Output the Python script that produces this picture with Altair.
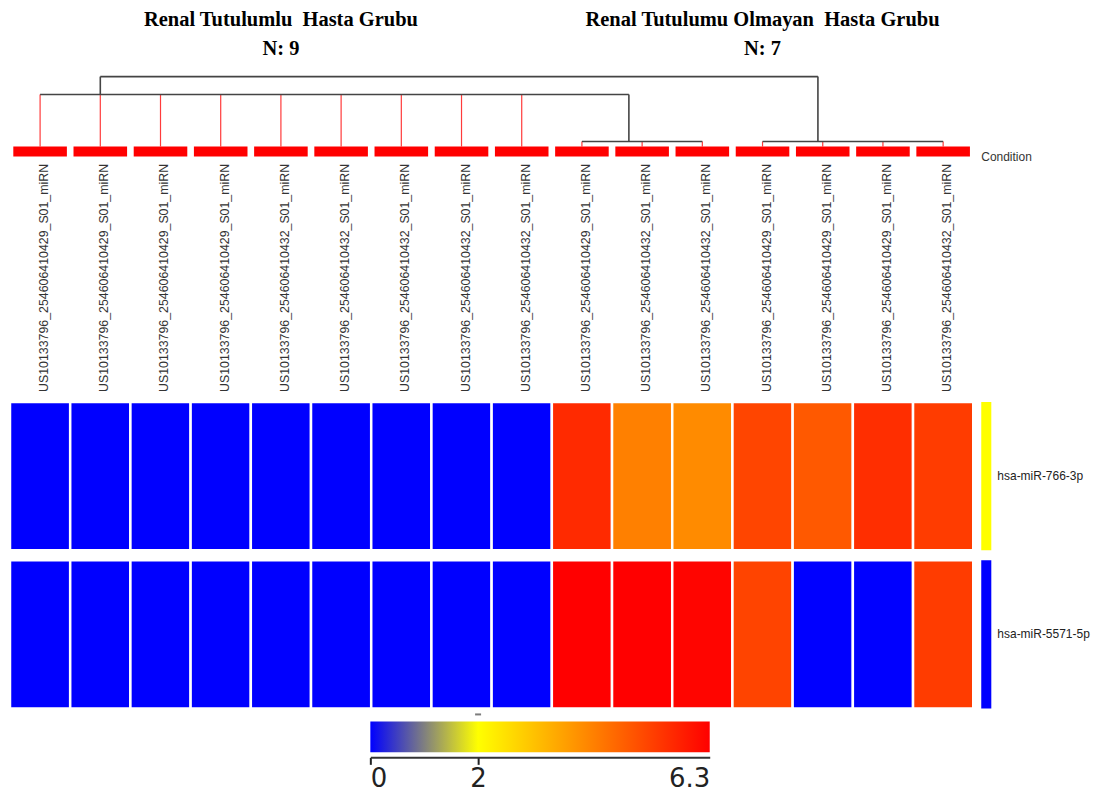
import altair as alt
import pandas as pd

# ---------------- data ----------------
COLUMN_LABELS = [
    "US10133796_254606410429_S01_miRN",
    "US10133796_254606410429_S01_miRN",
    "US10133796_254606410429_S01_miRN",
    "US10133796_254606410429_S01_miRN",
    "US10133796_254606410432_S01_miRN",
    "US10133796_254606410432_S01_miRN",
    "US10133796_254606410432_S01_miRN",
    "US10133796_254606410432_S01_miRN",
    "US10133796_254606410432_S01_miRN",
    "US10133796_254606410429_S01_miRN",
    "US10133796_254606410432_S01_miRN",
    "US10133796_254606410432_S01_miRN",
    "US10133796_254606410429_S01_miRN",
    "US10133796_254606410429_S01_miRN",
    "US10133796_254606410429_S01_miRN",
    "US10133796_254606410432_S01_miRN",
]
COLUMN_GROUP = [0, 0, 0, 0, 0, 0, 0, 0, 0, 1, 1, 1, 1, 1, 1, 1]
GROUP_NAMES = ["Renal Tutulumlu  Hasta Grubu", "Renal Tutulumu Olmayan  Hasta Grubu"]
GROUP_N = ["N: 9", "N: 7"]

MIRNAS = ["hsa-miR-766-3p", "hsa-miR-5571-5p"]
MIRNA_ANNOT_COLORS = ["#ffff00", "#0000ff"]
EXPR_766_3P = [0.0, 0.0, 0.0, 0.0, 0.0, 0.0, 0.0, 0.0, 0.0,
               5.59, 4.15, 3.95, 5.13, 4.80, 5.53, 5.29]
EXPR_5571_5P = [0.0, 0.0, 0.0, 0.0, 0.0, 0.0, 0.0, 0.0, 0.0,
                6.3, 6.3, 6.22, 5.15, 0.0, 0.0, 5.29]

CONDITION = ["Condition"]
CONDITION_COLOR = "#ff0000"

# dendrogram (column-index units, merge heights)
LEAF_MERGE_HEIGHT = [0.684, 0.684, 0.684, 0.684, 0.684, 0.684, 0.684, 0.684, 0.684,
                     0.066, 0.066, 0.066, 0.066, 0.066, 0.066, 0.066]
LINK_X = [0.0, 1.0, 1.0, 12.92, 9.78, 9.0, 12.0]
LINK_X2 = [9.78, 12.92, 1.0, 12.92, 9.78, 11.0, 15.0]
LINK_H = [0.684, 0.921, 0.684, 0.066, 0.066, 0.066, 0.066]
LINK_H2 = [0.684, 0.921, 0.921, 0.921, 0.684, 0.066, 0.066]

# colour bar
CB_STOPS = [0, 2, 6.3]
CB_COLORS = ["#0000ff", "#ffff00", "#ff0000"]
CB_LABELS = ["0", "2", "6.3"]

# ---------------- layout ----------------
W = 1101
ANNOT_X0, ANNOT_X1, ROWLABEL_X = 15.633, 15.80, 15.90
XS = alt.Scale(domain=[-0.5, 15.5], range=[0, 965], nice=False, zero=False)

n_cols = len(COLUMN_LABELS)
cols = list(range(n_cols))

# titles (keep the double spaces visible)
centers = []
for g in range(len(GROUP_NAMES)):
    idx = [i for i in cols if COLUMN_GROUP[i] == g]
    centers.append(sum(idx) / len(idx))
groups_df = pd.DataFrame({
    "name": [s.replace("  ", " \u00a0") for s in GROUP_NAMES],
    "n": GROUP_N, "center": centers,
})
tbase = alt.Chart(groups_df).encode(x=alt.X("center:Q", scale=XS, axis=None))
tstyle = dict(font="Liberation Serif", fontWeight="bold", fontSize=20.5,
              baseline="alphabetic", align="center", color="#000000")
title_panel = alt.layer(
    tbase.mark_text(**tstyle).encode(y=alt.value(17), text="name:N"),
    tbase.mark_text(**tstyle).encode(y=alt.value(46), text="n:N"),
).properties(width=W, height=62)

# dendrogram
YD = alt.Scale(domain=[0, 1], nice=False, zero=False)
leaves_df = pd.DataFrame({"col": cols, "base": [0.0] * n_cols, "h": LEAF_MERGE_HEIGHT})
links_df = pd.DataFrame({"x": LINK_X, "x2": LINK_X2, "y": LINK_H, "y2": LINK_H2})
leaf_rules = alt.Chart(leaves_df).mark_rule(color="#ff3b3b", strokeWidth=1.2).encode(
    x=alt.X("col:Q", scale=XS, axis=None),
    y=alt.Y("base:Q", scale=YD, axis=None),
    y2="h:Q",
)
link_rules = alt.Chart(links_df).mark_rule(color="#444444", strokeWidth=1.6).encode(
    x=alt.X("x:Q", scale=XS, axis=None),
    x2="x2:Q",
    y=alt.Y("y:Q", scale=YD, axis=None),
    y2="y2:Q",
)
dend_panel = alt.layer(leaf_rules, link_rules).properties(width=W, height=76)

# condition bar
cond_df = pd.DataFrame({"col": cols})
cond_bars = alt.Chart(cond_df).transform_calculate(
    x0="datum.col - 0.445", x1="datum.col + 0.445"
).mark_rect(color=CONDITION_COLOR).encode(
    x=alt.X("x0:Q", scale=XS, axis=None), x2="x1:Q"
)
cond_text = alt.Chart(pd.DataFrame({"t": CONDITION, "x": [ANNOT_X0]})).mark_text(
    align="left", baseline="middle", font="Liberation Sans", fontSize=12, color="#333333"
).encode(x=alt.X("x:Q", scale=XS, axis=None), y=alt.value(10.5), text="t:N")
cond_panel = alt.layer(cond_bars, cond_text).properties(width=W, height=10)

# column labels
lab_df = pd.DataFrame({"col": cols, "label": COLUMN_LABELS})
label_panel = alt.Chart(lab_df).mark_text(
    angle=270, align="left", baseline="middle", xOffset=4,
    font="Liberation Sans", fontSize=12.4, color="#333333"
).encode(
    x=alt.X("col:Q", scale=XS, axis=None), y=alt.value(236), text="label:N"
).properties(width=W, height=246)

# heatmap
rows = []
for m, vals in zip(MIRNAS, [EXPR_766_3P, EXPR_5571_5P]):
    for c, v in zip(cols, vals):
        rows.append({"mirna": m, "col": c, "value": v})
heat_df = pd.DataFrame(rows)
YS = alt.Scale(domain=MIRNAS, paddingInner=0.063, paddingOuter=0)
color_scale = alt.Scale(domain=CB_STOPS, range=CB_COLORS, interpolate="rgb", clamp=True)
cells = alt.Chart(heat_df).transform_calculate(
    x0="datum.col - 0.5", x1="datum.col + 0.5"
).mark_rect(stroke="white", strokeWidth=2.5).encode(
    x=alt.X("x0:Q", scale=XS, axis=None),
    x2="x1:Q",
    y=alt.Y("mirna:N", scale=YS, axis=None),
    color=alt.Color("value:Q", scale=color_scale, legend=None),
)
annot_df = pd.DataFrame({"mirna": MIRNAS, "c": MIRNA_ANNOT_COLORS,
                         "x0": [ANNOT_X0] * 2, "x1": [ANNOT_X1] * 2,
                         "lx": [ROWLABEL_X] * 2})
annot = alt.Chart(annot_df).mark_rect().encode(
    x=alt.X("x0:Q", scale=XS, axis=None), x2="x1:Q",
    y=alt.Y("mirna:N", scale=YS, axis=None),
    fill=alt.Fill("c:N", scale=None),
)
row_labels = alt.Chart(annot_df).mark_text(
    align="left", baseline="middle", font="Liberation Sans", fontSize=12, color="#222222"
).encode(
    x=alt.X("lx:Q", scale=XS, axis=None),
    y=alt.Y("mirna:N", scale=YS, axis=None),
    text="mirna:N",
)
heat_panel = alt.layer(cells, annot, row_labels).properties(width=W, height=307)

# colour bar
CBS = alt.Scale(domain=[CB_STOPS[0], CB_STOPS[-1]], range=[361, 701], nice=False, zero=False)
grad = alt.LinearGradient(
    gradient="linear", x1=0, x2=1, y1=0, y2=0,
    stops=[alt.GradientStop(offset=(v - CB_STOPS[0]) / (CB_STOPS[-1] - CB_STOPS[0]), color=c)
           for v, c in zip(CB_STOPS, CB_COLORS)],
)
cb_df = pd.DataFrame({"v0": [CB_STOPS[0]], "v1": [CB_STOPS[-1]]})
label_expr = "{" + ", ".join(f"'{v}': '{l}'" for v, l in zip(CB_STOPS, CB_LABELS)) + "}"
cb_axis = alt.Axis(
    values=CB_STOPS, orient="bottom", offset=5, grid=False,
    domain=True, domainColor="#333333", domainWidth=2,
    ticks=True, tickColor="#222222", tickWidth=2, tickSize=7,
    tickOpacity={"expr": f"datum.value == {CB_STOPS[-1]} ? 0 : 1"},
    labelFont="DejaVu Sans", labelFontSize=26, labelColor="#222222",
    labelPadding=1, labelFlush=False,
    labelAlign={"expr": f"datum.value == {CB_STOPS[0]} ? 'left' : (datum.value == {CB_STOPS[-1]} ? 'right' : 'center')"},
    labelExpr=f"{label_expr}['' + datum.value] || datum.label",
)
cb_bar = alt.Chart(cb_df).mark_rect(fill=grad).encode(
    x=alt.X("v0:Q", scale=CBS, title=None, axis=cb_axis),
    x2="v1:Q",
    y=alt.value(13), y2=alt.value(44),
)
cb_marker = alt.Chart(pd.DataFrame({"v0": [CB_STOPS[1]]})).mark_tick(
    orient="horizontal", size=6, thickness=2, color="#444444"
).encode(x=alt.X("v0:Q", scale=CBS, title=None, axis=cb_axis), y=alt.value(6))
cb_panel = alt.layer(cb_bar, cb_marker).properties(width=W, height=44)

chart = alt.vconcat(
    title_panel, dend_panel, cond_panel, label_panel, heat_panel, cb_panel,
    spacing=0, bounds="flush",
).properties(padding=0, background="white").configure_view(stroke=None)

chart.save("out.html", embed_options={"renderer": "svg", "actions": False})
